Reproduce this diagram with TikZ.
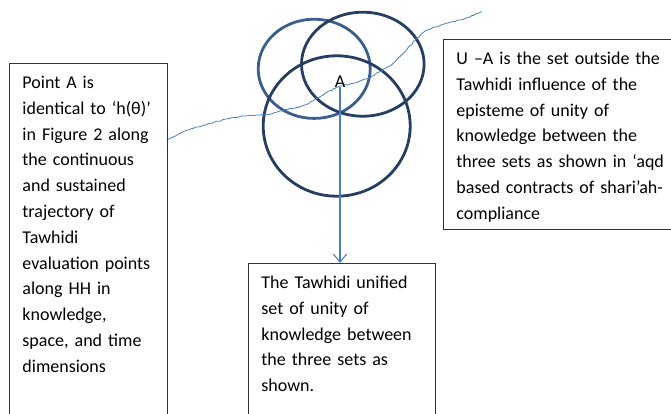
\documentclass[tikz,border=0pt]{standalone}
\usepackage{fontspec}
\setmainfont{Carlito}
\usetikzlibrary{arrows.meta,decorations.pathmorphing}
\definecolor{setlight}{RGB}{59,94,140}
\definecolor{setdark}{RGB}{38,62,98}
\definecolor{pathblue}{RGB}{74,126,190}
\tikzset{
  notebox/.style={draw=black!80,line width=0.9pt,anchor=north west,align=left,
    inner xsep=13pt,inner ysep=7pt,font=\fontsize{18}{25.8}\selectfont},
  setring/.style={line width=2.8pt},
  hhpath/.style={pathblue,line width=0.8pt,decorate,
    decoration={random steps,segment length=2.5pt,amplitude=0.6pt}},
  unityarrow/.style={pathblue,line width=1.1pt,-{Straight Barb[length=8pt,width=13pt]}}
}

\begin{document}
\begin{tikzpicture}[x=1pt,y=-1pt]
\useasboundingbox (0,0) rectangle (671,413);
\clip (0,0) rectangle (671,413);
% the three sets
\draw[setring,setlight] (314.2,68.8) ellipse [x radius=56pt,y radius=49.6pt];
\draw[setring,setdark] (362.8,64.2) ellipse [x radius=61.3pt,y radius=52pt];
\draw[setring,setdark] (336.7,126) ellipse [x radius=73.5pt,y radius=70.2pt];
% trajectory HH
\pgfmathsetseed{11}
\draw[hhpath] plot coordinates {(166.7,140) (180,133.3) (193.3,128.3) (210,123.3)
  (226.7,119) (243.3,116) (260,115) (270,114.3) (280,111) (293.3,108.3)
  (306.7,104.3) (316.7,98.3) (326.7,92.3) (340,86) (350,84) (360,81)
  (370,77.7) (380,71.7) (393.3,63.3) (406.7,50) (416.7,38.3) (426.7,30)
  (440,25.7) (453.3,21.7) (466.7,17.7) (481.7,11.7)};
\node[inner sep=0pt,anchor=base,font=\fontsize{18}{22}\selectfont] (A) at (340,87) {A};
% notes
\node[notebox,text width=132pt,text depth=335pt] (pointA) at (9,63)
  {\strut Point A is\\ identical to ‘h(θ)’\\ in Figure 2 along\\ the continuous\\
   and sustained\\ trajectory of\\ Tawhidi\\ evaluation points\\ along HH in\\
   knowledge,\\ space, and time\\ dimensions};
\node[notebox,text width=213pt,text depth=158pt] (outside) at (443,39)
  {\strut U –A is the set outside the\\ Tawhidi influence of the\\ episteme of unity of\\
   knowledge between the\\ three sets as shown in ‘aqd\\ based contracts of shari’ah-\\
   compliance};
\node[notebox,text width=161pt,text depth=135pt] (unified) at (248,263)
  {\strut The Tawhidi unified\\ set of unity of\\ knowledge between\\ the three sets as\\ shown.};
\draw[unityarrow] (A.south) -- (A.south |- unified.north);
\end{tikzpicture}
\end{document}
